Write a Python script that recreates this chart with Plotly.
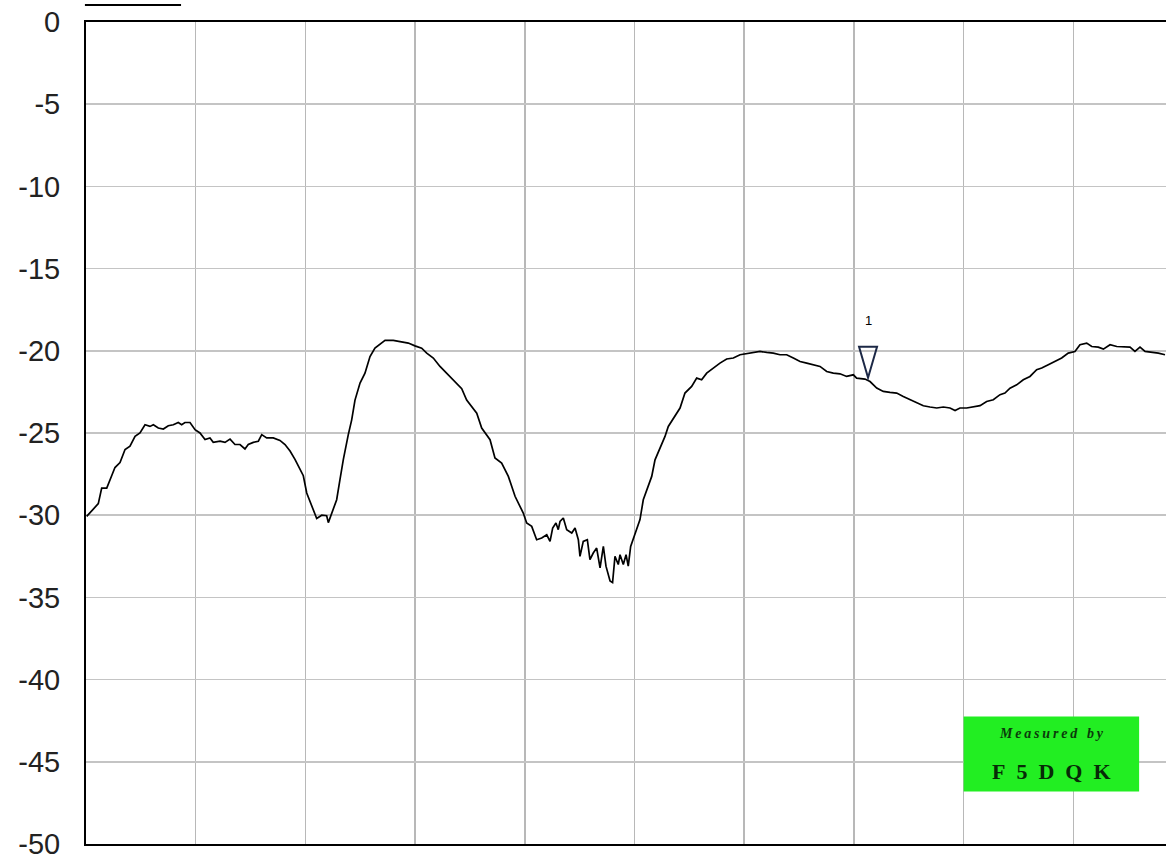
import plotly.graph_objects as go

# x position in grid divisions (no frequency labels shown), y level in dB
freq_div = [0.006, 0.067, 0.112, 0.143, 0.189, 0.234, 0.264, 0.310, 0.356, 0.401,
            0.447, 0.492, 0.538, 0.583, 0.614, 0.659, 0.705, 0.750, 0.796, 0.841,
            0.872, 0.902, 0.948, 0.994, 1.039, 1.085, 1.130, 1.160, 1.222, 1.267,
            1.313, 1.358, 1.404, 1.449, 1.479, 1.525, 1.571, 1.602, 1.647, 1.707,
            1.768, 1.814, 1.860, 1.905, 1.951, 1.981, 2.012, 2.057, 2.103, 2.149,
            2.194, 2.209, 2.240, 2.285, 2.315, 2.346, 2.391, 2.422, 2.452, 2.498,
            2.543, 2.589, 2.634, 2.680, 2.726, 2.801, 2.862, 2.938, 2.999, 3.060,
            3.106, 3.166, 3.227, 3.288, 3.348, 3.425, 3.470, 3.516, 3.562, 3.607,
            3.683, 3.728, 3.789, 3.850, 3.911, 3.956, 3.986, 4.017, 4.063, 4.108,
            4.154, 4.200, 4.230, 4.254, 4.284, 4.305, 4.321, 4.351, 4.382, 4.428,
            4.458, 4.488, 4.503, 4.533, 4.570, 4.594, 4.624, 4.655, 4.686, 4.716,
            4.740, 4.777, 4.800, 4.822, 4.852, 4.868, 4.898, 4.923, 4.943, 4.965,
            5.005, 5.050, 5.080, 5.111, 5.157, 5.187, 5.232, 5.278, 5.308, 5.354,
            5.415, 5.460, 5.521, 5.567, 5.612, 5.658, 5.718, 5.779, 5.840, 5.901,
            5.962, 6.023, 6.083, 6.144, 6.205, 6.265, 6.326, 6.387, 6.448, 6.509,
            6.570, 6.630, 6.691, 6.752, 6.812, 6.873, 6.934, 6.995, 7.025, 7.101,
            7.147, 7.208, 7.268, 7.329, 7.390, 7.450, 7.511, 7.572, 7.633, 7.694,
            7.755, 7.815, 7.876, 7.922, 7.967, 8.028, 8.088, 8.150, 8.210, 8.271,
            8.332, 8.377, 8.423, 8.484, 8.544, 8.605, 8.666, 8.712, 8.772, 8.833,
            8.894, 8.954, 9.015, 9.061, 9.122, 9.168, 9.228, 9.274, 9.335, 9.396,
            9.456, 9.517, 9.562, 9.608, 9.654, 9.715, 9.775, 9.836]

level_db = [-30.07, -29.6, -29.3, -28.35, -28.35, -27.6, -27.1, -26.8, -26.0, -25.8,
            -25.2, -25.0, -24.5, -24.6, -24.5, -24.7, -24.76, -24.56, -24.5, -24.36,
            -24.5, -24.36, -24.36, -24.8, -25.0, -25.4, -25.3, -25.57, -25.5, -25.57,
            -25.37, -25.7, -25.7, -25.97, -25.7, -25.57, -25.5, -25.1, -25.3, -25.3,
            -25.45, -25.7, -26.1, -26.6, -27.2, -27.6, -28.65, -29.36, -30.2, -30.0,
            -30.03, -30.45, -29.85, -29.06, -27.84, -26.6, -25.1, -24.2, -23.0, -21.96,
            -21.36, -20.35, -19.84, -19.63, -19.37, -19.37, -19.43, -19.53, -19.7, -19.84,
            -20.14, -20.44, -20.95, -21.36, -21.8, -22.3, -23.0, -23.39, -23.79, -24.7,
            -25.41, -26.52, -26.83, -27.64, -28.85, -29.46, -29.87, -30.47, -30.68, -31.49,
            -31.39, -31.19, -31.59, -30.78, -30.47, -30.88, -30.38, -30.17, -30.88, -31.08,
            -30.78, -31.49, -32.5, -31.59, -31.49, -32.7, -32.3, -32.0, -33.2, -31.9,
            -33.1, -34.0, -34.1, -32.5, -33.0, -32.4, -33.0, -32.4, -33.1, -31.9,
            -31.08, -30.27, -29.06, -28.45, -27.64, -26.63, -25.92, -25.21, -24.6, -24.09,
            -23.48, -22.57, -22.17, -21.66, -21.76, -21.36, -21.05, -20.75, -20.5, -20.44,
            -20.24, -20.18, -20.1, -20.04, -20.1, -20.14, -20.24, -20.24, -20.44, -20.65,
            -20.75, -20.85, -20.95, -21.26, -21.36, -21.4, -21.56, -21.46, -21.66, -21.72,
            -21.87, -22.27, -22.47, -22.53, -22.57, -22.78, -22.98, -23.18, -23.34, -23.42,
            -23.48, -23.42, -23.48, -23.63, -23.48, -23.48, -23.42, -23.34, -23.08, -22.98,
            -22.67, -22.57, -22.27, -22.07, -21.76, -21.56, -21.15, -21.05, -20.85, -20.65,
            -20.44, -20.14, -20.04, -19.63, -19.53, -19.74, -19.78, -19.9, -19.63, -19.74,
            -19.74, -19.78, -20.04, -19.78, -20.04, -20.08, -20.14, -20.24]

y_ticks = [0, -5, -10, -15, -20, -25, -30, -35, -40, -45, -50]
y_tick_text = ["0", "-5", "-10", "-15", "-20", "-25", "-30", "-35", "-40", "-45", "-50"]

marker_x = 7.129
marker_y = -21.64
marker_label = "1"

badge_x = [8.0, 9.6]
badge_y = [-46.8, -42.25]
badge_line1 = "M\u2009e\u2009a\u2009s\u2009u\u2009r\u2009e\u2009d\u2002\u2009b\u2009y"
badge_line2 = "F\u20025\u2002D\u2002Q\u2002K"

fig = go.Figure()
fig.add_trace(go.Scatter(
    x=freq_div, y=level_db, mode="lines",
    line=dict(color="#000000", width=1.7),
    hoverinfo="skip", showlegend=False,
))

# marker triangle (pixel sized, anchored at the trace point)
fig.add_shape(
    type="path", xref="x", yref="y",
    xsizemode="pixel", ysizemode="pixel",
    xanchor=marker_x, yanchor=marker_y,
    path="M -9,31 L 9,31 L 0,0 Z",
    line=dict(color="#1c2846", width=2),
    fillcolor="rgba(0,0,0,0)",
)
fig.add_annotation(
    x=marker_x, y=marker_y, text=marker_label, showarrow=False,
    yshift=57, xshift=0,
    font=dict(family="Liberation Sans", size=13, color="#000000"),
)

# green badge
fig.add_shape(
    type="rect", xref="x", yref="y",
    x0=badge_x[0], x1=badge_x[1], y0=badge_y[0], y1=badge_y[1],
    fillcolor="#22ee22", line=dict(width=0), layer="above",
)
mid_x = (badge_x[0] + badge_x[1]) / 2
fig.add_annotation(
    x=mid_x, y=badge_y[1], yanchor="middle", yshift=-17, showarrow=False,
    text="<i><b>" + badge_line1 + "</b></i>",
    font=dict(family="Liberation Serif", size=14, color="#0b3a0b"),
)
fig.add_annotation(
    x=mid_x, y=badge_y[0], yanchor="middle", yshift=20, showarrow=False,
    text="<b>" + badge_line2 + "</b>",
    font=dict(family="Liberation Serif", size=22, color="#072a07"),
)

# short cropped line above plot (legend remnant)
fig.add_shape(
    type="line", xref="paper", yref="paper",
    x0=-0.001, x1=0.088, y0=1.0207, y1=1.0207,
    line=dict(color="#000000", width=2),
)

fig.update_layout(
    width=1166, height=856,
    margin=dict(l=86, r=0, t=22, b=12, autoexpand=False),
    paper_bgcolor="#ffffff", plot_bgcolor="#ffffff",
    showlegend=False,
    xaxis=dict(
        range=[0, 9.845], dtick=1, tick0=0,
        showticklabels=False, ticks="", automargin=False,
        showgrid=True, gridcolor="#b8b8b8", gridwidth=1.5,
        showline=True, linecolor="#000000", linewidth=2, mirror=True,
        zeroline=False, fixedrange=True,
    ),
    yaxis=dict(
        range=[-50, 0], tickvals=y_ticks, ticktext=y_tick_text,
        showgrid=True, gridcolor="#c4c4c4", gridwidth=1.5,
        showline=True, linecolor="#000000", linewidth=2, mirror=False,
        zeroline=False, ticks="", ticklabelstandoff=18, automargin=False,
        ticklabeloverflow="allow",
        tickfont=dict(family="Liberation Sans", size=29, color="#222222"),
        fixedrange=True,
    ),
)

fig.write_html(
    "out.html",
    config={"displayModeBar": False, "staticPlot": True},
    post_script="document.body.style.margin='0';document.body.style.overflow='hidden';",
)
